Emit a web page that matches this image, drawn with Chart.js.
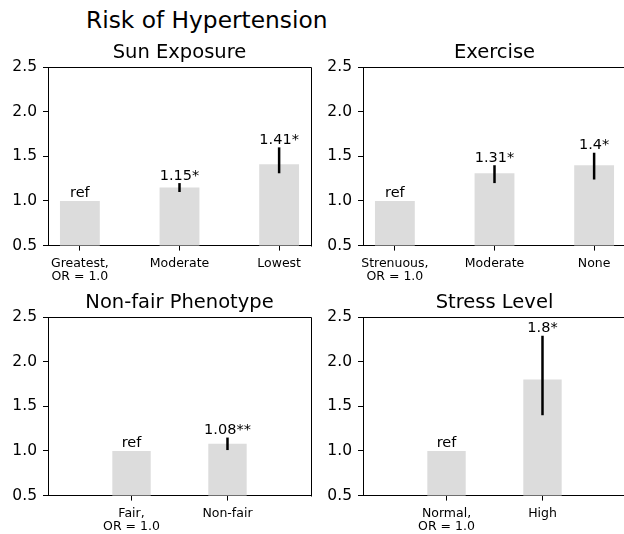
<!DOCTYPE html>
<html>
<head>
<meta charset="utf-8">
<script src="https://cdn.jsdelivr.net/npm/chart.js@4.4.1/dist/chart.umd.min.js"></script>
<style>
  html, body { margin: 0; padding: 0; background: #fff; overflow: hidden; }
  body { width: 624px; height: 534px; position: relative; }
  canvas { position: absolute; }
  #suptitle {
    position: absolute; left: 86px; top: 8px; margin: 0;
    font: 23.3px/23px 'DejaVu Sans', sans-serif; color: #000; white-space: nowrap;
  }
</style>
</head>
<body>
<div id="suptitle">Risk of Hypertension</div>
<canvas id="sun" width="320" height="262" style="left:0;top:30px"></canvas>
<canvas id="exercise" width="320" height="262" style="left:315px;top:30px"></canvas>
<canvas id="phenotype" width="320" height="262" style="left:0;top:280px"></canvas>
<canvas id="stress" width="320" height="262" style="left:315px;top:280px"></canvas>
<script>
// odds ratios; lo/hi are the error bar ends
var sunCats = [ [ 'Greatest,', 'OR = 1.0' ], 'Moderate', 'Lowest' ];
var sunOR = [ 1.0, 1.15, 1.41 ];
var sunLo = [ null, 1.10, 1.31 ];
var sunHi = [ null, 1.20, 1.60 ];
var sunTags = [ 'ref', '1.15*', '1.41*' ];

var exCats = [ [ 'Strenuous,', 'OR = 1.0' ], 'Moderate', 'None' ];
var exOR = [ 1.0, 1.31, 1.40 ];
var exLo = [ null, 1.20, 1.24 ];
var exHi = [ null, 1.40, 1.54 ];
var exTags = [ 'ref', '1.31*', '1.4*' ];

var phenoCats = [ [ 'Fair,', 'OR = 1.0' ], 'Non-fair' ];
var phenoOR = [ 1.0, 1.08 ];
var phenoLo = [ null, 1.01 ];
var phenoHi = [ null, 1.15 ];
var phenoTags = [ 'ref', '1.08**' ];

var stressCats = [ [ 'Normal,', 'OR = 1.0' ], 'High' ];
var stressOR = [ 1.0, 1.8 ];
var stressLo = [ null, 1.40 ];
var stressHi = [ null, 2.29 ];
var stressTags = [ 'ref', '1.8*' ];

var yTicks = [ 0.5, 1.0, 1.5, 2.0, 2.5 ];

(function () {
	'use strict';

	Chart.defaults.font.family = "'DejaVu Sans', sans-serif";
	Chart.defaults.color = '#000';

	// matplotlib-style box round the plot area, title centred over it
	var frame = {
		id: 'frame',
		afterDraw: function ( chart, args, opts ) {
			var a = chart.chartArea, ctx = chart.ctx;
			ctx.save();
			ctx.strokeStyle = '#000';
			ctx.lineWidth = 1;
			ctx.beginPath();
			ctx.moveTo( Math.round( a.left ) + 0.5, Math.round( a.top ) + 0.5 );
			ctx.lineTo( Math.round( a.right ) + 0.5, Math.round( a.top ) + 0.5 );
			ctx.lineTo( Math.round( a.right ) + 0.5, Math.round( a.bottom ) + 0.5 );
			ctx.stroke();
			ctx.fillStyle = '#000';
			ctx.font = "19.5px 'DejaVu Sans', sans-serif";
			ctx.textAlign = 'center';
			ctx.textBaseline = 'alphabetic';
			ctx.fillText( opts.text, ( a.left + a.right ) / 2, a.top - 9.3 );
			ctx.restore();
		}
	};

	// error bars and the value text above each bar
	var errorBars = {
		id: 'errorBars',
		afterDatasetsDraw: function ( chart ) {
			var ctx = chart.ctx, xs = chart.scales.x, ys = chart.scales.y;
			var ds = chart.data.datasets[ 0 ];
			ctx.save();
			ctx.strokeStyle = '#000';
			ctx.lineWidth = 2.5;
			ctx.fillStyle = '#000';
			ctx.font = "14.5px 'DejaVu Sans', sans-serif";
			ctx.textAlign = 'center';
			ctx.textBaseline = 'alphabetic';
			ds.data.forEach( function ( d, i ) {
				var px = xs.getPixelForValue( d.x );
				var top = d.y;
				if ( ds.errLo[ i ] !== null ) {
					ctx.beginPath();
					ctx.moveTo( px, ys.getPixelForValue( ds.errLo[ i ] ) );
					ctx.lineTo( px, ys.getPixelForValue( ds.errHi[ i ] ) );
					ctx.stroke();
					top = Math.max( top, ds.errHi[ i ] );
				}
				ctx.fillText( ds.tags[ i ], px, ys.getPixelForValue( top ) - 3.5 );
			} );
			ctx.restore();
		}
	};

	function makePanel( id, title, cats, values, lo, hi, tags, xMin, xMax ) {
		new Chart( document.getElementById( id ), {
			type: 'bar',
			data: {
				datasets: [ {
					data: values.map( function ( v, i ) { return { x: i, y: v }; } ),
					errLo: lo,
					errHi: hi,
					tags: tags,
					backgroundColor: '#dcdcdc',
					borderWidth: 0,
					barPercentage: 0.4,
					categoryPercentage: 1,
				} ],
			},
			options: {
				responsive: false,
				animation: false,
				layout: { padding: { top: 37, right: 9, bottom: 6.4, left: 0 } },
				plugins: {
					legend: { display: false },
					tooltip: { enabled: false },
					frame: { text: title },
				},
				scales: {
					x: {
						type: 'linear',
						min: xMin,
						max: xMax,
						offset: false,
						afterFit: function ( s ) { s.height = 40; },
						afterBuildTicks: function ( s ) {
							s.ticks = cats.map( function ( c, i ) { return { value: i }; } );
						},
						ticks: {
							padding: 6,
							maxRotation: 0,
							autoSkip: false,
							font: { size: 12.5, lineHeight: 1.08 },
							callback: function ( v ) { return cats[ v ]; },
						},
						grid: { offset: false, drawOnChartArea: false, tickLength: 5, color: '#000' },
						border: { display: true, color: '#000', width: 1 },
					},
					y: {
						min: 0.5,
						max: 2.5,
						afterFit: function ( s ) { s.width = 48; },
						afterBuildTicks: function ( s ) {
							s.ticks = yTicks.map( function ( v ) { return { value: v }; } );
						},
						ticks: {
							padding: 6,
							font: { size: 15.5 },
							callback: function ( v ) { return v.toFixed( 1 ); },
						},
						grid: { drawOnChartArea: false, tickLength: 5, color: '#000' },
						border: { display: true, color: '#000', width: 1 },
					},
				},
			},
			plugins: [ errorBars, frame ],
		} );
	}

	makePanel( 'sun', 'Sun Exposure', sunCats, sunOR, sunLo, sunHi, sunTags, -0.32, 2.32 );
	makePanel( 'exercise', 'Exercise', exCats, exOR, exLo, exHi, exTags, -0.32, 2.32 );
	makePanel( 'phenotype', 'Non-fair Phenotype', phenoCats, phenoOR, phenoLo, phenoHi, phenoTags, -0.87, 1.87 );
	makePanel( 'stress', 'Stress Level', stressCats, stressOR, stressLo, stressHi, stressTags, -0.87, 1.87 );
}() );
</script>
</body>
</html>
